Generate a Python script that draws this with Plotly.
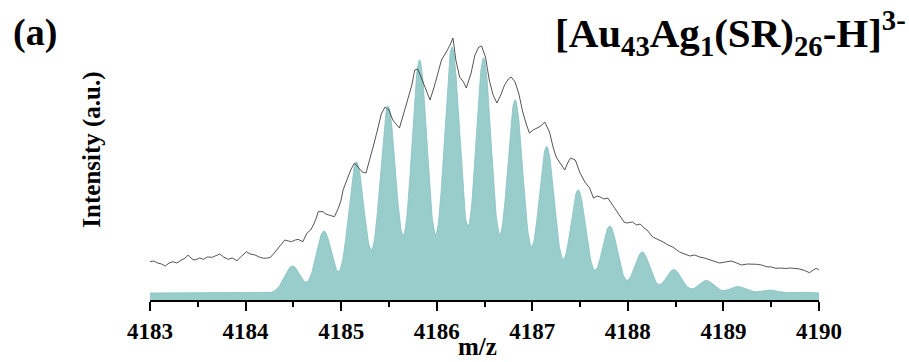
import numpy as np
import plotly.graph_objects as go

# ---- Data -------------------------------------------------------------
# Experimental spectrum (m/z, intensity a.u.)
exp_mz = [4183.00, 4183.04, 4183.08, 4183.12, 4183.16, 4183.20, 4183.24, 4183.28, 4183.33, 4183.37,
          4183.40, 4183.44, 4183.47, 4183.52, 4183.56, 4183.60, 4183.65, 4183.69, 4183.73, 4183.77,
          4183.82, 4183.86, 4183.91, 4183.96, 4184.01, 4184.05, 4184.10, 4184.14, 4184.19, 4184.23,
          4184.26, 4184.30, 4184.34, 4184.38, 4184.41, 4184.45, 4184.48, 4184.52, 4184.55, 4184.60,
          4184.64, 4184.68, 4184.71, 4184.74, 4184.76, 4184.81, 4184.84, 4184.87, 4184.90, 4184.93,
          4184.97, 4185.00, 4185.02, 4185.06, 4185.10, 4185.14, 4185.18, 4185.22, 4185.26, 4185.30,
          4185.34, 4185.38, 4185.42, 4185.46, 4185.50, 4185.54, 4185.58, 4185.61, 4185.65, 4185.70,
          4185.74, 4185.77, 4185.80, 4185.84, 4185.88, 4185.93, 4185.97, 4186.01, 4186.05, 4186.10,
          4186.14, 4186.17, 4186.20, 4186.24, 4186.28, 4186.31, 4186.36, 4186.40, 4186.44, 4186.47,
          4186.51, 4186.55, 4186.59, 4186.63, 4186.67, 4186.71, 4186.75, 4186.78, 4186.82, 4186.86,
          4186.90, 4186.94, 4186.97, 4187.01, 4187.05, 4187.09, 4187.13, 4187.18, 4187.22, 4187.25,
          4187.29, 4187.34, 4187.37, 4187.40, 4187.45, 4187.50, 4187.55, 4187.60, 4187.64, 4187.68,
          4187.71, 4187.75, 4187.79, 4187.84, 4187.88, 4187.92, 4187.96, 4187.99, 4188.05, 4188.09,
          4188.13, 4188.17, 4188.20, 4188.26, 4188.31, 4188.37, 4188.42, 4188.47, 4188.54, 4188.60,
          4188.65, 4188.70, 4188.75, 4188.80, 4188.86, 4188.91, 4188.96, 4189.02, 4189.08, 4189.14,
          4189.19, 4189.25, 4189.30, 4189.35, 4189.40, 4189.45, 4189.50, 4189.55, 4189.60, 4189.65,
          4189.70, 4189.75, 4189.80, 4189.85, 4189.90, 4189.94, 4189.97, 4190.00]
exp_int = [38.3, 39.0, 37.0, 36.0, 34.0, 37.0, 38.3, 37.0, 40.0, 42.0,
           45.0, 41.0, 40.0, 42.0, 40.7, 43.0, 42.7, 44.0, 46.0, 43.0,
           40.7, 42.0, 39.3, 44.0, 48.3, 46.0, 45.0, 43.0, 41.7, 42.0,
           42.7, 47.0, 51.7, 56.0, 60.0, 59.0, 58.3, 60.0, 60.7, 58.3,
           66.7, 70.0, 75.0, 82.0, 88.3, 88.3, 86.0, 85.0, 84.0, 83.3,
           91.7, 100.0, 110.0, 120.0, 130.0, 137.0, 133.0, 128.0, 127.0, 140.0,
           155.0, 170.0, 186.0, 193.0, 190.0, 180.0, 175.0, 172.0, 185.0, 202.0,
           215.0, 230.0, 231.0, 222.0, 212.0, 200.0, 212.0, 225.0, 240.0, 248.0,
           255.0, 262.0, 240.0, 223.0, 218.0, 212.0, 227.0, 245.0, 253.0, 254.0,
           243.0, 220.0, 205.0, 197.0, 205.0, 215.0, 221.0, 223.0, 218.0, 206.0,
           188.0, 175.0, 167.0, 170.0, 172.0, 174.0, 178.0, 168.0, 152.0, 143.0,
           137.0, 130.0, 137.0, 142.0, 140.0, 127.0, 118.0, 112.0, 102.0, 104.0,
           103.0, 101.0, 102.0, 95.0, 89.0, 83.0, 78.0, 77.0, 78.0, 75.0,
           76.0, 72.0, 70.0, 63.0, 61.0, 58.0, 55.0, 53.0, 48.0, 46.0,
           44.0, 45.0, 43.0, 42.0, 40.0, 38.0, 37.0, 38.0, 39.0, 37.0,
           35.0, 36.0, 36.0, 35.7, 35.0, 33.3, 33.0, 31.7, 32.0, 31.5,
           32.0, 31.7, 31.0, 29.5, 27.3, 30.0, 31.7, 30.0]

# Simulated isotope pattern: peak centres (m/z) and heights (a.u.)
sim_mz = [4184.49, 4184.82, 4185.16, 4185.49, 4185.82, 4186.16, 4186.49, 4186.82, 4187.15,
          4187.48, 4187.81, 4188.15, 4188.48, 4188.82, 4189.15, 4189.48, 4189.82]
sim_height = [27, 62, 131, 187, 233, 246, 235, 193, 146.5,
              103, 67, 41, 23.5, 12.5, 6.5, 3, 1.2]
sim_baseline = 7.0
sim_sigma = 0.083

x_ticks = [4183, 4184, 4185, 4186, 4187, 4188, 4189, 4190]
title_label = "(a)"
formula_label = "[Au<sub>43</sub>Ag<sub>1</sub>(SR)<sub>26</sub>-H]<sup>3-</sup>"

# ---- Simulated profile (Gaussian line shape) --------------------------
grid = np.linspace(4183.0, 4190.0, 1401)
profile = np.full_like(grid, sim_baseline)
for c, h in zip(sim_mz, sim_height):
    profile += h * np.exp(-((grid - c) ** 2) / (2 * sim_sigma ** 2))

FONT = "Liberation Serif"

fig = go.Figure()
fig.add_trace(go.Scatter(x=grid, y=profile, mode="lines", fill="tozeroy",
                         fillcolor="#99cdcc", line=dict(color="#86c2c1", width=0.8),
                         hoverinfo="skip", showlegend=False))
fig.add_trace(go.Scatter(x=exp_mz, y=exp_int, mode="lines",
                         line=dict(color="#2a2a2a", width=0.8),
                         showlegend=False))

fig.update_layout(
    width=909, height=362,
    margin=dict(l=150, r=90, t=30, b=62),
    paper_bgcolor="white", plot_bgcolor="white",
    font=dict(family=FONT, color="black"),
    xaxis=dict(range=[4183, 4190], tickvals=x_ticks, ticktext=[str(t) for t in x_ticks],
               showline=True, linecolor="black", linewidth=2, mirror=False,
               ticks="outside", ticklen=9, tickwidth=2, tickcolor="black",
               minor=dict(dtick=0.5, ticks="outside", ticklen=5, tickwidth=1.5, tickcolor="black"),
               showgrid=False, zeroline=False,
               tickfont=dict(family=FONT, size=23, color="black", weight="bold")),
    yaxis=dict(range=[0, 270], visible=False, showgrid=False, zeroline=False),
    annotations=[
        dict(text="<b>m/z</b>", xref="paper", yref="paper", x=0.49, y=-0.172,
             xanchor="center", yanchor="middle", showarrow=False,
             font=dict(family=FONT, size=25, color="black")),
        dict(text="<b>Intensity (a.u.)</b>", xref="paper", yref="paper", x=-0.087, y=0.556,
             xanchor="center", yanchor="middle", showarrow=False, textangle=-90,
             font=dict(family=FONT, size=25, color="black")),
        dict(text="<b>" + title_label + "</b>", xref="paper", yref="paper", x=(11 - 150) / 669,
             y=(300 - 32) / 270, xanchor="left", yanchor="middle", showarrow=False,
             font=dict(family=FONT, size=38, color="black")),
        dict(text="<b>" + formula_label + "</b>", xref="paper", yref="paper", x=(908 - 150) / 669,
             y=(300 - 33) / 270, xanchor="right", yanchor="middle", showarrow=False,
             font=dict(family=FONT, size=41, color="black")),
    ],
)

fig.write_html("out.html")
